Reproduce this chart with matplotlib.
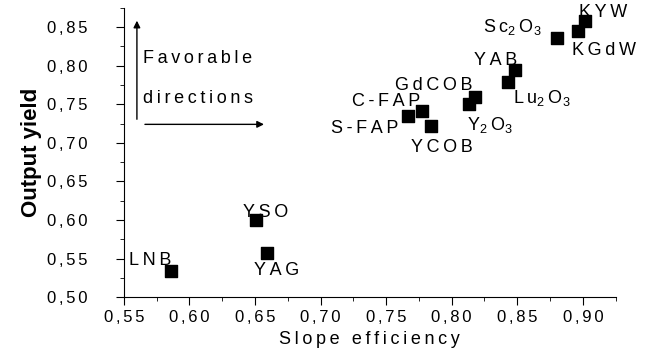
import matplotlib
matplotlib.use('Agg')
import matplotlib.pyplot as plt
from matplotlib.ticker import FuncFormatter, MultipleLocator

plt.rcParams['font.family'] = ['Liberation Sans', 'DejaVu Sans']
plt.rcParams['mathtext.fontset'] = 'custom'
plt.rcParams['mathtext.rm'] = 'Liberation Sans'

# crystals: slope efficiency vs output yield
names = ['LNB', 'YSO', 'YAG', 'S-FAP', 'C-FAP', 'YCOB', 'Y$_2$O$_3$', 'GdCOB',
         'Lu$_2$O$_3$', 'YAB', 'Sc$_2$O$_3$', 'KGdW', 'KYW']
slope = [0.586, 0.651, 0.659, 0.767, 0.777, 0.784, 0.813, 0.818,
         0.843, 0.848, 0.880, 0.896, 0.902]
yld = [0.534, 0.600, 0.557, 0.735, 0.741, 0.722, 0.750, 0.759,
       0.779, 0.794, 0.836, 0.845, 0.858]
# label anchor (left edge, vertical centre)
lab_x = [0.554, 0.641, 0.649, 0.708, 0.724, 0.769, 0.812, 0.757,
         0.847, 0.817, 0.824, 0.892, 0.897]
lab_y = [0.548, 0.610, 0.534, 0.719, 0.753, 0.694, 0.723, 0.775,
         0.758, 0.807, 0.850, 0.820, 0.869]

SP = '\u2009'


def spaced(s, sp=SP):
    # loose letter spacing like the scanned original, math parts kept whole
    parts = s.split('$')
    out = ''
    for i, p in enumerate(parts):
        if i % 2:
            out += '$' + p + '$'
        elif p:
            out += (sp if out else '') + sp.join(p)
    return out


fig = plt.figure(figsize=(6.62, 3.58), dpi=100)
ax = fig.add_axes([0.187, 0.170, 0.743, 0.808])

ax.scatter(slope, yld, marker='s', s=64, color='black', zorder=3)
for n, tx, ty in zip(names, lab_x, lab_y):
    ax.text(tx, ty, spaced(n), fontsize=13, ha='left', va='center')

ax.set_xlim(0.55, 0.925)
ax.set_ylim(0.50, 0.875)
ax.spines['top'].set_visible(False)
ax.spines['right'].set_visible(False)
ax.xaxis.set_major_locator(MultipleLocator(0.05))
ax.xaxis.set_minor_locator(MultipleLocator(0.025))
ax.yaxis.set_major_locator(MultipleLocator(0.05))
ax.yaxis.set_minor_locator(MultipleLocator(0.025))
comma = FuncFormatter(lambda v, p: spaced(('%.2f' % v).replace('.', ','), '\u2006'))
ax.xaxis.set_major_formatter(comma)
ax.yaxis.set_major_formatter(comma)
ax.tick_params(which='major', direction='out', length=6, labelsize=12)
ax.tick_params(axis='y', which='major', pad=20)
ax.tick_params(which='minor', direction='out', length=3)

ax.set_xlabel(spaced('Slope efficiency'), fontsize=13, labelpad=4)
ax.set_ylabel('Output yield', fontsize=16, fontweight='bold', labelpad=4)

# favorable directions arrows
ax.annotate('', xy=(0.560, 0.862), xytext=(0.560, 0.727),
            arrowprops=dict(arrowstyle='-|>', color='black', lw=1, mutation_scale=10))
ax.annotate('', xy=(0.659, 0.724), xytext=(0.564, 0.724),
            arrowprops=dict(arrowstyle='-|>', color='black', lw=1, mutation_scale=10))
ax.text(0.565, 0.810, spaced('Favorable'), fontsize=13, ha='left', va='center')
ax.text(0.565, 0.758, spaced('directions'), fontsize=13, ha='left', va='center')

fig.savefig('out.png', dpi=100)
